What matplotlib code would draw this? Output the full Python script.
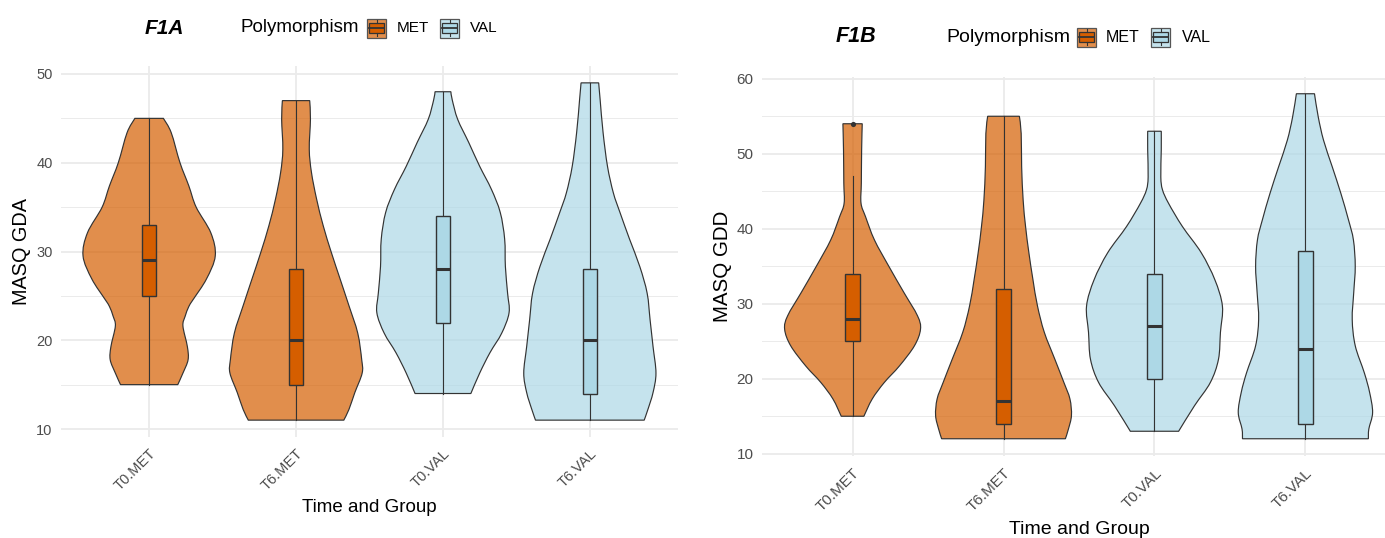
import matplotlib.pyplot as plt
from matplotlib.colors import to_rgba
from matplotlib.path import Path
from matplotlib.patches import PathPatch, Rectangle

plt.rcParams["font.family"] = ["Liberation Sans", "DejaVu Sans"]

groups = ["T0.MET", "T6.MET", "T0.VAL", "T6.VAL"]
polymorphism = ["MET", "MET", "VAL", "VAL"]
fill_colors = {"MET": "#D55E00", "VAL": "#ADD8E6"}

# F1A - MASQ GDA boxplot summaries
gda_min = [15, 11, 14, 11]
gda_q1 = [25, 15, 22, 14]
gda_median = [29, 20, 28, 20]
gda_q3 = [33, 28, 34, 28]
gda_max = [45, 47, 48, 49]

# F1A violin outlines: score level and half width
gda_t0met_y = [15, 16.3, 17.8, 19.3, 21.6, 22.7, 23.8, 24.6, 26.9, 29.5, 32.1, 35, 37.4, 40, 43.4, 45]
gda_t0met_w = [0.195, 0.23, 0.265, 0.26, 0.23, 0.245, 0.27, 0.30, 0.39, 0.45, 0.42, 0.32, 0.27, 0.21, 0.15, 0.097]
gda_t6met_y = [11, 12.2, 14.1, 16.3, 17.8, 20.8, 23.9, 26.9, 29.9, 32.9, 35.9, 38.9, 41.5, 44.9, 47]
gda_t6met_w = [0.325, 0.36, 0.40, 0.45, 0.447, 0.42, 0.36, 0.30, 0.24, 0.185, 0.14, 0.105, 0.09, 0.098, 0.093]
gda_t0val_y = [14, 16.3, 18.6, 20.8, 23.1, 25.3, 28.3, 31.4, 34.4, 37, 39.6, 42.3, 44.9, 47.1, 48]
gda_t0val_w = [0.19, 0.25, 0.32, 0.40, 0.45, 0.44, 0.425, 0.42, 0.39, 0.33, 0.25, 0.175, 0.10, 0.063, 0.054]
gda_t6val_y = [11, 12.2, 14.1, 16.3, 19.3, 22.3, 25.3, 28.3, 31.4, 34.4, 36.6, 39.6, 43.4, 47.1, 49]
gda_t6val_w = [0.37, 0.395, 0.43, 0.45, 0.43, 0.41, 0.39, 0.34, 0.27, 0.205, 0.16, 0.12, 0.09, 0.07, 0.06]

# F1B - MASQ GDD boxplot summaries
gdd_min = [15, 12, 13, 12]
gdd_q1 = [25, 14, 20, 14]
gdd_median = [28, 17, 27, 24]
gdd_q3 = [34, 32, 34, 37]
gdd_max = [47, 55, 53, 58]
gdd_outliers = [[54], [], [], []]

# F1B violin outlines
gdd_t0met_y = [15, 17.3, 19.5, 21.7, 24.4, 26.6, 28.4, 31.5, 35, 38.5, 41.6, 43.4, 46.1, 50.5, 54]
gdd_t0met_w = [0.075, 0.13, 0.21, 0.31, 0.41, 0.45, 0.43, 0.34, 0.24, 0.145, 0.086, 0.056, 0.058, 0.06, 0.064]
gdd_t6met_y = [12, 13.3, 15.1, 17.3, 19.5, 22.6, 26.2, 29.7, 33.2, 36.8, 40.3, 43.8, 48.3, 52.7, 55]
gdd_t6met_w = [0.41, 0.43, 0.45, 0.44, 0.40, 0.34, 0.27, 0.225, 0.195, 0.168, 0.146, 0.13, 0.12, 0.117, 0.105]
gdd_t0val_y = [13, 16.4, 19.5, 22.6, 26.2, 29.7, 33.2, 36.8, 40.3, 43.4, 45.2, 46.9, 50.5, 53]
gdd_t0val_w = [0.16, 0.265, 0.37, 0.424, 0.437, 0.45, 0.40, 0.31, 0.185, 0.093, 0.053, 0.042, 0.045, 0.045]
gdd_t6val_y = [12, 13.3, 15.5, 18.2, 20.8, 24.4, 27.9, 31.5, 35, 38.5, 41.2, 44.7, 48.3, 51.8, 54.9, 58]
gdd_t6val_w = [0.417, 0.42, 0.445, 0.425, 0.39, 0.33, 0.31, 0.32, 0.33, 0.318, 0.285, 0.235, 0.177, 0.12, 0.085, 0.06]

EDGE = "#333333"


def smooth_segments(points):
    # Catmull-Rom through the outline points, as cubic Bezier pieces
    verts = []
    n = len(points)
    for i in range(n - 1):
        p0 = points[i - 1] if i > 0 else points[i]
        p1 = points[i]
        p2 = points[i + 1]
        p3 = points[i + 2] if i + 2 < n else points[i + 1]
        c1 = (p1[0] + (p2[0] - p0[0]) / 6, p1[1] + (p2[1] - p0[1]) / 6)
        c2 = (p2[0] - (p3[0] - p1[0]) / 6, p2[1] - (p3[1] - p1[1]) / 6)
        verts += [c1, c2, p2]
    return verts


def draw_violin(ax, pos, ys, ws, color):
    right = [(pos + w, y) for y, w in zip(ys, ws)]
    left = [(pos - w, y) for y, w in zip(ys, ws)][::-1]
    verts = [left[-1], right[0]]
    codes = [Path.MOVETO, Path.LINETO]
    seg = smooth_segments(right)
    verts += seg
    codes += [Path.CURVE4] * len(seg)
    verts.append(left[0])
    codes.append(Path.LINETO)
    seg = smooth_segments(left)
    verts += seg
    codes += [Path.CURVE4] * len(seg)
    verts.append(left[-1])
    codes.append(Path.CLOSEPOLY)
    patch = PathPatch(Path(verts, codes), facecolor=to_rgba(color, 0.7),
                      edgecolor=EDGE, lw=0.85, zorder=2)
    ax.add_patch(patch)


def draw_box(ax, pos, lo, q1, med, q3, hi, color, outliers=()):
    ax.plot([pos, pos], [lo, hi], color=EDGE, lw=0.8, zorder=3)
    ax.add_patch(Rectangle((pos - 0.05, q1), 0.1, q3 - q1, facecolor=color,
                           edgecolor=EDGE, lw=1.0, zorder=4))
    ax.plot([pos - 0.05, pos + 0.05], [med, med], color=EDGE, lw=2.2,
            solid_capstyle="butt", zorder=5)
    for v in outliers:
        ax.scatter([pos], [v], s=14, color=EDGE, zorder=6, linewidths=0)


def style_axes(ax, ylim, yticks, ylabel, label_size, xlab_y, ylab_x):
    ax.set_xlim(0.4, 4.6)
    ax.set_ylim(*ylim)
    ax.set_yticks(yticks)
    ax.set_yticks([t + 5 for t in yticks[:-1]], minor=True)
    ax.set_xticks(range(1, 5))
    ax.set_xticklabels(groups, rotation=45, ha="right", rotation_mode="anchor",
                       color="#4D4D4D", fontsize=label_size - 3)
    ax.tick_params(axis="y", which="both", length=0, pad=6,
                   labelcolor="#4D4D4D", labelsize=label_size - 3)
    ax.tick_params(axis="x", length=0, pad=7)
    ax.grid(which="major", color="#EBEBEB", lw=1.3)
    ax.grid(which="minor", axis="y", color="#EBEBEB", lw=0.7)
    ax.set_axisbelow(True)
    for s in ax.spines.values():
        s.set_visible(False)
    ax.set_xlabel("Time and Group", fontsize=label_size)
    ax.set_ylabel(ylabel, fontsize=label_size + 0.8)
    ax.xaxis.set_label_coords(0.5, xlab_y)
    ax.yaxis.set_label_coords(ylab_x, 0.5)


def legend_key(ax, x, y, color, size=19):
    # violin key square with a boxplot glyph on top, pixel coordinates
    ax.add_patch(Rectangle((x, y - size / 2), size, size, facecolor=to_rgba(color, 0.7),
                           edgecolor="#555555", lw=0.9))
    ax.add_patch(Rectangle((x + size * 0.1, y - size * 0.25), size * 0.8, size * 0.5,
                           facecolor=color, edgecolor=EDGE, lw=0.9))
    ax.plot([x + size * 0.1, x + size * 0.9], [y, y], color=EDGE, lw=1.3)
    ax.plot([x + size / 2] * 2, [y - size * 0.4, y - size * 0.25], color=EDGE, lw=0.8)
    ax.plot([x + size / 2] * 2, [y + size * 0.25, y + size * 0.4], color=EDGE, lw=0.8)


fig = plt.figure(figsize=(13.85, 5.38), dpi=100)
W, H = 1385, 538

ax_a = fig.add_axes([61 / W, (H - 437) / H, 617 / W, 371 / H])
ax_b = fig.add_axes([762 / W, (H - 456) / H, 634 / W, 379.5 / H])

gda_shapes = [(gda_t0met_y, gda_t0met_w), (gda_t6met_y, gda_t6met_w),
              (gda_t0val_y, gda_t0val_w), (gda_t6val_y, gda_t6val_w)]
gdd_shapes = [(gdd_t0met_y, gdd_t0met_w), (gdd_t6met_y, gdd_t6met_w),
              (gdd_t0val_y, gdd_t0val_w), (gdd_t6val_y, gdd_t6val_w)]

for i, (ys, ws) in enumerate(gda_shapes):
    color = fill_colors[polymorphism[i]]
    draw_violin(ax_a, i + 1, ys, ws, color)
    draw_box(ax_a, i + 1, gda_min[i], gda_q1[i], gda_median[i], gda_q3[i], gda_max[i], color)

for i, (ys, ws) in enumerate(gdd_shapes):
    color = fill_colors[polymorphism[i]]
    draw_violin(ax_b, i + 1, ys, ws, color)
    draw_box(ax_b, i + 1, gdd_min[i], gdd_q1[i], gdd_median[i], gdd_q3[i], gdd_max[i],
             color, gdd_outliers[i])

style_axes(ax_a, (9.1, 50.9), [10, 20, 30, 40, 50], "MASQ GDA", 13.5, -0.166, -0.049)
style_axes(ax_b, (9.7, 60.3), [10, 20, 30, 40, 50, 60], "MASQ GDD", 14, -0.17, -0.047)

# titles and legends sit on a full-figure overlay in pixel units
over = fig.add_axes([0, 0, 1, 1])
over.set_xlim(0, W)
over.set_ylim(H, 0)
over.axis("off")

over.text(145, 28, "F1A", fontsize=15, fontweight="bold", fontstyle="italic", va="center")
over.text(240, 28, "Polymorphism", fontsize=13.5, va="center")
legend_key(over, 367, 28, fill_colors["MET"])
over.text(397, 28, "MET", fontsize=11, va="center")
legend_key(over, 440, 28, fill_colors["VAL"])
over.text(470, 28, "VAL", fontsize=11, va="center")

over.text(836, 37, "F1B", fontsize=15.5, fontweight="bold", fontstyle="italic", va="center")
over.text(946, 37, "Polymorphism", fontsize=14, va="center")
legend_key(over, 1077, 37, fill_colors["MET"])
over.text(1106, 37, "MET", fontsize=11.5, va="center")
legend_key(over, 1151, 37, fill_colors["VAL"])
over.text(1182, 37, "VAL", fontsize=11.5, va="center")

fig.savefig("out.png", dpi=100)
